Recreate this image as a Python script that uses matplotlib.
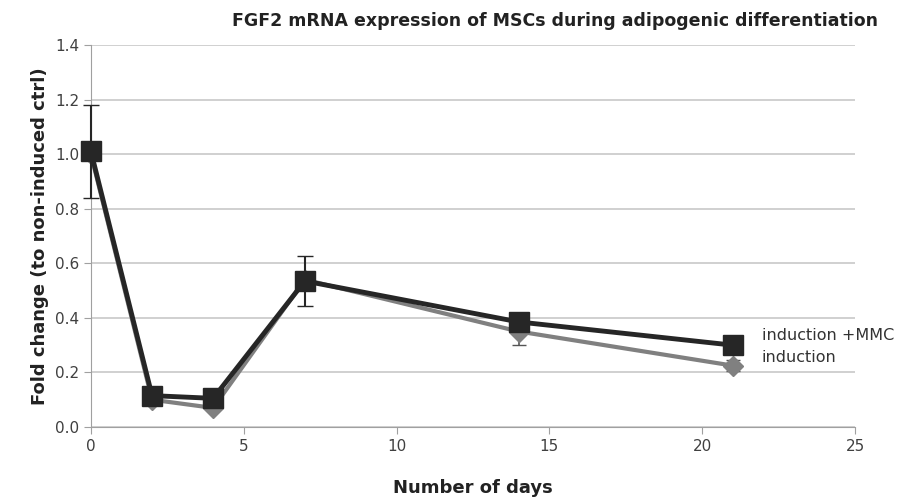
import matplotlib.pyplot as plt

days = [0, 2, 4, 7, 14, 21]
mmc = [1.01, 0.115, 0.105, 0.535, 0.385, 0.30]
mmc_err = [0.17, 0.0, 0.0, 0.09, 0.0, 0.0]
induction = [1.0, 0.10, 0.07, 0.54, 0.35, 0.225]
induction_err = [0.0, 0.0, 0.0, 0.0, 0.05, 0.02]

fig = plt.figure(figsize=(9.09, 5.0), dpi=100)
ax = fig.add_axes([0.100, 0.146, 0.8406, 0.764])

e1 = ax.errorbar(days, induction, yerr=induction_err, color='#808080', ecolor='#555555',
                 lw=3, marker='D', ms=10, capsize=5, elinewidth=1.2, zorder=3)
e2 = ax.errorbar(days, mmc, yerr=mmc_err, color='#262626', ecolor='#262626',
                 lw=3.5, marker='s', ms=14, capsize=6, elinewidth=1.5, zorder=4)
for e in (e1, e2):
    for art in e.lines[0:1] + tuple(e.lines[1]) + tuple(e.lines[2]):
        art.set_clip_on(False)

ax.text(21.95, 0.337, "induction +MMC", fontsize=11.5, va='center', ha='left', color='#333333')
ax.text(21.95, 0.256, "induction", fontsize=11.5, va='center', ha='left', color='#333333')

ax.set_xlim(0, 25)
ax.set_ylim(0, 1.4)
ax.set_xticks([0, 5, 10, 15, 20, 25])
ax.set_yticks([0.0, 0.2, 0.4, 0.6, 0.8, 1.0, 1.2, 1.4])
ax.set_yticklabels([f"{v:.1f}" for v in ax.get_yticks()])
ax.yaxis.grid(True, color='#c8c8c8', lw=1.2)
ax.set_axisbelow(True)
for s in ['top', 'right']:
    ax.spines[s].set_visible(False)
for s in ['left', 'bottom']:
    ax.spines[s].set_color('#a0a0a0')
ax.tick_params(colors='#a0a0a0', labelcolor='#404040', labelsize=11, length=5)

ax.set_title("FGF2 mRNA expression of MSCs during adipogenic differentiation",
             fontsize=12.5, fontweight='bold', color='#222222', pad=14, x=0.607)
ax.set_ylabel("Fold change (to non-induced ctrl)", fontsize=13, fontweight='bold', color='#222222')
ax.set_xlabel("Number of days", fontsize=13, fontweight='bold', color='#222222', labelpad=18)

fig.savefig("out.png", dpi=100)
